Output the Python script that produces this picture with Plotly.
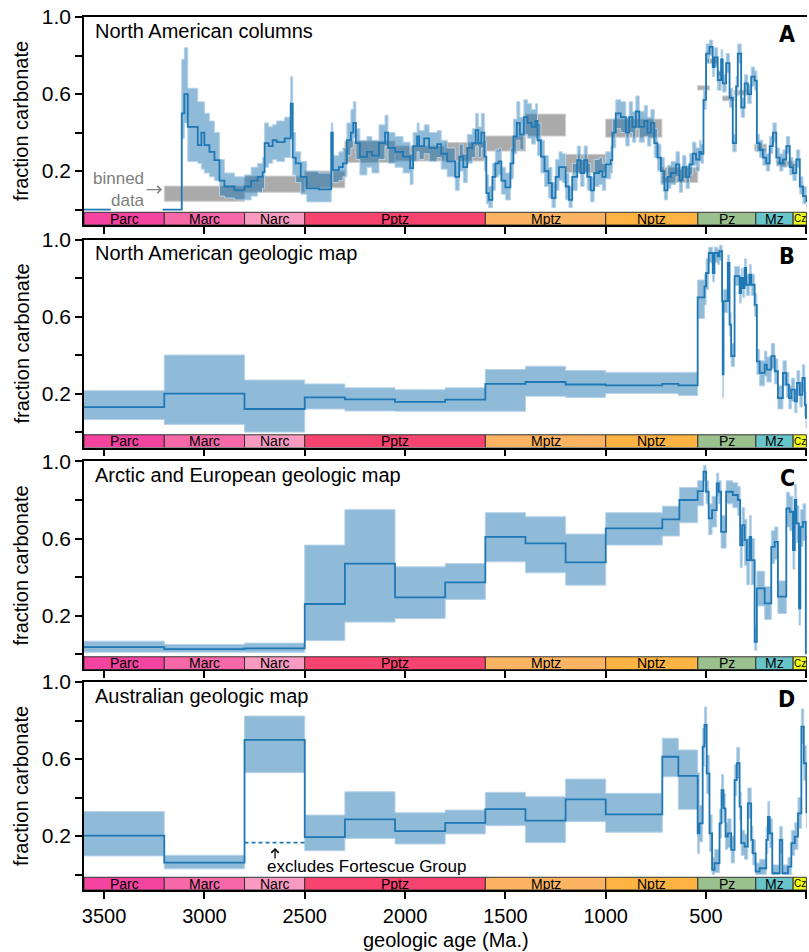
import plotly.graph_objects as go

# ---------------- data ----------------
ts_names = ["Parc", "Marc", "Narc", "Pptz", "Mptz", "Nptz", "Pz", "Mz", "Cz"]
ts_start = [3600, 3200, 2800, 2500, 1600, 1000, 541, 252, 66]
ts_end = [3200, 2800, 2500, 1600, 1000, 541, 252, 66, 0]
ts_colors = ["#f4449f", "#f768a9", "#f99bc1", "#f74370", "#fdb462",
             "#feb342", "#99c08d", "#67c5ca", "#f2f91d"]

x_ticks = [0, 500, 1000, 1500, 2000, 2500, 3000, 3500]
y_tickvals = [0, 0.2, 0.4, 0.6, 0.8, 1.0]
y_ticktext = ["", "0.2", "", "0.6", "", "1.0"]

panel_titles = ["North American columns", "North American geologic map",
                "Arctic and European geologic map", "Australian geologic map"]
panel_letters = ["A", "B", "C", "D"]

# Panel A: North American columns
a_early_age = [3600, 3467]
a_early_val = [0.0, 0.0]

a_age = [3208, 3113, 3100, 3083, 3033, 3015, 3000, 2975, 2950, 2925, 2900, 2850, 2800, 2767, 2735,
         2710, 2700, 2680, 2660, 2640, 2600, 2570, 2560, 2545, 2520, 2490, 2430, 2368, 2360, 2330,
         2310, 2290, 2270, 2258, 2245, 2225, 2190, 2165, 2130, 2100, 2085, 2050, 2010, 1975, 1960,
         1940, 1930, 1905, 1880, 1840, 1820, 1790, 1750, 1730, 1710, 1690, 1665, 1648, 1635, 1620,
         1605, 1595, 1583, 1565, 1550, 1533, 1520, 1500, 1475, 1460, 1443, 1428, 1408, 1390, 1370,
         1350, 1340, 1323, 1305, 1285, 1268, 1250, 1233, 1217, 1200, 1183, 1167, 1142, 1125, 1108,
         1092, 1075, 1058, 1033, 1017, 1000, 975, 967, 950, 925, 900, 883, 867, 850, 833,
         808, 792, 775, 758, 742, 725, 708, 692, 675, 650, 633, 617, 600, 583, 567,
         550, 533, 525, 513, 500, 483, 467, 458, 442, 425, 417, 400, 383, 367, 350,
         342, 325, 308, 292, 275, 258, 247, 233, 217, 200, 183, 167, 150, 133, 117,
         100, 83, 67, 50, 33, 17, 0]
a_mid = [0.00, 0.50, 0.60, 0.43, 0.335, 0.40, 0.335, 0.30, 0.257, 0.15, 0.12, 0.10, 0.12, 0.15, 0.17,
         0.195, 0.345, 0.33, 0.36, 0.35, 0.37, 0.55, 0.27, 0.24, 0.17, 0.11, 0.105, 0.40, 0.205, 0.22,
         0.24, 0.36, 0.40, 0.45, 0.345, 0.274, 0.30, 0.28, 0.345, 0.40, 0.32, 0.30, 0.275, 0.215, 0.33,
         0.38, 0.33, 0.37, 0.32, 0.34, 0.29, 0.25, 0.17, 0.275, 0.22, 0.32, 0.345, 0.413, 0.345, 0.40,
         0.275, 0.085, 0.05, 0.17, 0.24, 0.25, 0.15, 0.115, 0.24, 0.38, 0.45, 0.39, 0.48, 0.45, 0.43,
         0.46, 0.36, 0.275, 0.20, 0.137, 0.06, 0.17, 0.22, 0.22, 0.12, 0.05, 0.17, 0.257, 0.19, 0.257,
         0.17, 0.10, 0.19, 0.20, 0.17, 0.235, 0.257, 0.40, 0.50, 0.48, 0.40, 0.48, 0.43, 0.51, 0.43,
         0.46, 0.40, 0.45, 0.345, 0.27, 0.20, 0.10, 0.17, 0.19, 0.235, 0.15, 0.22, 0.17, 0.235, 0.29,
         0.26, 0.30, 0.29, 0.57, 0.81, 0.845, 0.74, 0.79, 0.672, 0.78, 0.655, 0.76, 0.58, 0.345, 0.64,
         0.81, 0.53, 0.655, 0.60, 0.69, 0.67, 0.345, 0.31, 0.27, 0.24, 0.33, 0.40, 0.27, 0.24, 0.26,
         0.33, 0.22, 0.19, 0.26, 0.12, 0.07, 0.04]
a_lo = [0.00, 0.37, 0.45, 0.25, 0.24, 0.21, 0.19, 0.17, 0.15, 0.07, 0.06, 0.05, 0.05, 0.07, 0.09,
        0.11, 0.22, 0.24, 0.26, 0.25, 0.27, 0.38, 0.18, 0.14, 0.08, 0.04, 0.04, 0.20, 0.14, 0.15,
        0.17, 0.28, 0.32, 0.37, 0.26, 0.18, 0.22, 0.19, 0.26, 0.33, 0.24, 0.22, 0.19, 0.13, 0.25,
        0.30, 0.26, 0.29, 0.25, 0.27, 0.21, 0.17, 0.10, 0.20, 0.14, 0.24, 0.27, 0.33, 0.27, 0.32,
        0.20, 0.03, 0.01, 0.10, 0.17, 0.18, 0.08, 0.05, 0.16, 0.29, 0.36, 0.31, 0.39, 0.37, 0.34,
        0.37, 0.28, 0.19, 0.12, 0.06, 0.01, 0.10, 0.15, 0.14, 0.05, 0.01, 0.10, 0.19, 0.12, 0.19,
        0.10, 0.04, 0.12, 0.13, 0.10, 0.16, 0.19, 0.32, 0.42, 0.40, 0.33, 0.40, 0.35, 0.42, 0.35,
        0.38, 0.33, 0.37, 0.27, 0.20, 0.13, 0.05, 0.11, 0.13, 0.17, 0.09, 0.16, 0.11, 0.18, 0.23,
        0.20, 0.25, 0.24, 0.52, 0.76, 0.80, 0.69, 0.74, 0.62, 0.73, 0.61, 0.71, 0.53, 0.30, 0.59,
        0.76, 0.48, 0.61, 0.55, 0.64, 0.62, 0.30, 0.27, 0.23, 0.20, 0.29, 0.35, 0.23, 0.20, 0.22,
        0.29, 0.18, 0.15, 0.22, 0.08, 0.03, 0.01]
a_hi = [0.00, 0.78, 0.84, 0.63, 0.56, 0.56, 0.50, 0.46, 0.40, 0.26, 0.19, 0.17, 0.18, 0.22, 0.24,
        0.27, 0.45, 0.43, 0.44, 0.46, 0.48, 0.69, 0.40, 0.30, 0.25, 0.20, 0.19, 0.45, 0.28, 0.30,
        0.32, 0.45, 0.52, 0.56, 0.42, 0.36, 0.38, 0.36, 0.44, 0.49, 0.40, 0.38, 0.35, 0.29, 0.40,
        0.45, 0.41, 0.44, 0.40, 0.41, 0.36, 0.32, 0.25, 0.34, 0.29, 0.39, 0.42, 0.50, 0.43, 0.50,
        0.36, 0.18, 0.12, 0.24, 0.31, 0.32, 0.22, 0.19, 0.32, 0.47, 0.56, 0.48, 0.57, 0.55, 0.52,
        0.55, 0.45, 0.36, 0.28, 0.22, 0.14, 0.26, 0.30, 0.29, 0.19, 0.12, 0.24, 0.33, 0.26, 0.33,
        0.24, 0.17, 0.26, 0.27, 0.24, 0.30, 0.33, 0.47, 0.57, 0.56, 0.48, 0.56, 0.51, 0.59, 0.51,
        0.54, 0.48, 0.52, 0.42, 0.34, 0.27, 0.17, 0.23, 0.25, 0.30, 0.21, 0.28, 0.23, 0.29, 0.35,
        0.32, 0.36, 0.34, 0.62, 0.86, 0.88, 0.79, 0.84, 0.72, 0.83, 0.70, 0.81, 0.63, 0.39, 0.69,
        0.86, 0.58, 0.70, 0.65, 0.74, 0.72, 0.39, 0.36, 0.32, 0.29, 0.38, 0.45, 0.32, 0.29, 0.31,
        0.38, 0.27, 0.24, 0.31, 0.17, 0.12, 0.08]

# binned data (gray boxes, panel A)
bin_start = [3200, 2800, 2500, 2300, 2050, 1800, 1600, 1400, 1200, 1000, 720, 543, 493, 443, 418, 360, 258, 148]
bin_end = [2800, 2500, 2300, 2050, 1800, 1600, 1400, 1200, 1000, 720, 541, 483, 443, 423, 358, 285, 198, 58]
bin_lo = [0.043, 0.09, 0.113, 0.244, 0.252, 0.252, 0.304, 0.382, 0.193, 0.376, 0.141,
          0.621, 0.76, 0.695, 0.565, 0.595, 0.304, 0.226]
bin_hi = [0.122, 0.174, 0.20, 0.356, 0.33, 0.348, 0.382, 0.496, 0.287, 0.47, 0.219,
          0.643, 0.782, 0.72, 0.59, 0.62, 0.34, 0.252]

# Panel B: North American geologic map
b_age = [3600, 3200, 2800, 2500, 2300, 2050, 1800, 1600, 1400, 1200, 1000, 718, 638,
         542, 508, 500, 487, 467, 458, 442, 433, 420, 417, 413, 392, 383, 375, 358, 333,
         325, 317, 308, 300, 283, 275, 258, 247, 233, 208, 197, 175, 158, 142, 117, 100,
         87, 75, 58, 47, 33, 20, 8, 2]
b_mid = [0.13, 0.20, 0.12, 0.18, 0.17, 0.157, 0.169, 0.25, 0.26, 0.247, 0.243, 0.25, 0.243,
         0.70, 0.757, 0.826, 0.93, 0.826, 0.93, 0.913, 0.939, 0.68, 0.30, 0.68, 0.878, 0.558, 0.394, 0.81, 0.722,
         0.80, 0.748, 0.852, 0.765, 0.817, 0.765, 0.661, 0.367, 0.307, 0.35, 0.324, 0.394, 0.316, 0.177, 0.307, 0.246,
         0.177, 0.22, 0.16, 0.255, 0.194, 0.281, 0.142, 0.073]
b_lo = [0.065, 0.04, 0.00, 0.12, 0.11, 0.108, 0.108, 0.108, 0.186, 0.18, 0.20, 0.20, 0.19,
        0.59, 0.66, 0.74, 0.88, 0.78, 0.88, 0.87, 0.89, 0.62, 0.18, 0.62, 0.83, 0.50, 0.34, 0.76, 0.67,
        0.75, 0.70, 0.80, 0.71, 0.76, 0.71, 0.60, 0.30, 0.24, 0.29, 0.26, 0.33, 0.25, 0.12, 0.24, 0.18,
        0.12, 0.16, 0.10, 0.19, 0.13, 0.21, 0.08, 0.02]
b_hi = [0.215, 0.40, 0.27, 0.25, 0.23, 0.22, 0.23, 0.325, 0.342, 0.32, 0.31, 0.31, 0.31,
        0.79, 0.82, 0.90, 0.96, 0.88, 0.96, 0.95, 0.97, 0.74, 0.40, 0.74, 0.92, 0.62, 0.46, 0.86, 0.78,
        0.85, 0.80, 0.90, 0.82, 0.87, 0.82, 0.72, 0.43, 0.37, 0.42, 0.39, 0.46, 0.38, 0.24, 0.37, 0.31,
        0.24, 0.28, 0.22, 0.32, 0.26, 0.35, 0.21, 0.13]

# Panel C: Arctic and European geologic map
c_age = [3600, 3200, 2800, 2500, 2300, 2050, 1800, 1600, 1400, 1200, 1000, 718, 633,
         542, 513, 500, 487, 470, 447, 437, 425, 400, 367, 342, 330, 320, 308, 297, 283,
         275, 258, 247, 208, 175, 158, 142, 100, 83, 67, 58, 50, 37, 30, 17, 3]
c_mid = [0.036, 0.026, 0.03, 0.26, 0.47, 0.294, 0.372, 0.609, 0.575, 0.476, 0.653, 0.70, 0.80,
         0.846, 0.947, 0.843, 0.705, 0.748, 0.886, 0.843, 0.635, 0.843, 0.826, 0.80, 0.566, 0.67, 0.592, 0.488, 0.609,
         0.488, 0.064, 0.341, 0.263, 0.557, 0.583, 0.298, 0.756, 0.739, 0.54, 0.80, 0.679, 0.237, 0.661, 0.687, 0.004]
c_lo = [0.01, 0.01, 0.01, 0.07, 0.166, 0.185, 0.284, 0.479, 0.422, 0.358, 0.566, 0.613, 0.682,
        0.77, 0.90, 0.78, 0.62, 0.66, 0.82, 0.78, 0.55, 0.78, 0.76, 0.72, 0.45, 0.56, 0.46, 0.36, 0.48,
        0.36, 0.02, 0.25, 0.18, 0.47, 0.49, 0.21, 0.66, 0.64, 0.44, 0.70, 0.58, 0.15, 0.56, 0.59, 0.0]
c_hi = [0.067, 0.05, 0.057, 0.566, 0.75, 0.453, 0.47, 0.734, 0.713, 0.623, 0.734, 0.768, 0.865,
        0.90, 0.98, 0.90, 0.78, 0.82, 0.94, 0.90, 0.72, 0.90, 0.89, 0.87, 0.66, 0.76, 0.70, 0.60, 0.72,
        0.60, 0.15, 0.43, 0.35, 0.64, 0.66, 0.38, 0.84, 0.82, 0.64, 0.88, 0.77, 0.33, 0.75, 0.78, 0.08]

# Panel D: Australian geologic map
d_age = [3600, 3200, 2800, 2500, 2300, 2050, 1800, 1600, 1400, 1200, 1000, 718, 638,
         542, 533, 517, 508, 497, 483, 470, 458, 433, 423, 413, 403, 392, 375, 358, 347,
         333, 325, 308, 292, 275, 267, 253, 233, 200, 192, 183, 170, 133, 120, 92, 75,
         58, 42, 25, 13, 0]
d_mid = [0.202, 0.062, 0.699, 0.195, 0.287, 0.226, 0.269, 0.34, 0.28, 0.391, 0.313, 0.612, 0.513,
         0.214, 0.266, 0.664, 0.777, 0.526, 0.214, 0.024, 0.059, 0.266, 0.439, 0.344, 0.197, 0.214, 0.128, 0.491, 0.578,
         0.353, 0.163, 0.145, 0.37, 0.18, 0.11, 0.015, 0.033, 0.18, 0.30, 0.214, 0.007, 0.18, 0.007, 0.041, 0.163,
         0.197, 0.318, 0.768, 0.578, 0.318]
d_lo = [0.097, 0.03, 0.529, 0.124, 0.188, 0.159, 0.211, 0.254, 0.166, 0.275, 0.22, 0.508, 0.339,
        0.11, 0.17, 0.56, 0.68, 0.42, 0.12, 0.0, 0.01, 0.19, 0.36, 0.27, 0.13, 0.14, 0.06, 0.41, 0.50,
        0.28, 0.10, 0.08, 0.29, 0.11, 0.05, 0.0, 0.0, 0.11, 0.22, 0.14, 0.0, 0.11, 0.0, 0.0, 0.10,
        0.13, 0.24, 0.68, 0.49, 0.24]
d_hi = [0.327, 0.10, 0.823, 0.309, 0.43, 0.321, 0.335, 0.427, 0.404, 0.496, 0.422, 0.708, 0.647,
        0.53, 0.36, 0.76, 0.87, 0.62, 0.31, 0.09, 0.13, 0.34, 0.52, 0.42, 0.27, 0.29, 0.20, 0.57, 0.66,
        0.43, 0.23, 0.21, 0.45, 0.25, 0.18, 0.06, 0.08, 0.25, 0.38, 0.29, 0.05, 0.25, 0.05, 0.09, 0.23,
        0.27, 0.40, 0.86, 0.67, 0.40]

# Australia Neoarchean value excluding the Fortescue Group (dashed)
d_dash_age = [2800, 2500]
d_dash_val = [0.166, 0.166]

# ---------------- styling ----------------
FONT = "Liberation Sans, Arial, Helvetica, sans-serif"
LETTER_FONT = "DejaVu Sans Condensed, DejaVu Sans, sans-serif"
BLUE = "#1f77b4"
BAND = "rgba(31,119,180,0.5)"
EDGE = "rgba(182,210,233,1)"
X_RANGE = [3600, -3]
Y_RANGE = [-0.08, 1.0]
TS_Y0, TS_Y1 = -0.08, -0.014
domains = [[0.76174, 1.0], [0.50687, 0.74513], [0.25258, 0.49084], [0.0, 0.23826]]

fig = go.Figure()


def axnames(i):
    return ("x" if i == 1 else f"x{i}"), ("y" if i == 1 else f"y{i}")


def add_series(i, ages, mid, lo, hi):
    xa, ya = axnames(i)
    xs = list(ages) + ([0] if ages[-1] != 0 else [])
    ext = (lambda v: list(v) + ([v[-1]] if ages[-1] != 0 else []))
    common = dict(xaxis=xa, yaxis=ya, showlegend=False, hoverinfo="skip", mode="lines")
    fig.add_trace(go.Scatter(x=xs, y=ext(lo), line=dict(color=EDGE, width=1, shape="hv"), **common))
    fig.add_trace(go.Scatter(x=xs, y=ext(hi), line=dict(color=EDGE, width=1, shape="hv"),
                             fill="tonexty", fillcolor=BAND, **common))
    fig.add_trace(go.Scatter(x=xs, y=ext(mid), line=dict(color=BLUE, width=1.8, shape="hv"), **common))


# panel A: binned boxes first (underneath the band)
for s, e, lo, hi in zip(bin_start, bin_end, bin_lo, bin_hi):
    fig.add_trace(go.Scatter(x=[s, e, e, s, s], y=[lo, lo, hi, hi, lo], mode="lines",
                             fill="toself", fillcolor="rgba(150,150,150,0.8)",
                             line=dict(color="rgba(208,208,208,1)", width=1),
                             xaxis="x", yaxis="y", showlegend=False, hoverinfo="skip"))
fig.add_trace(go.Scatter(x=a_early_age, y=a_early_val, mode="lines",
                         line=dict(color=BLUE, width=1.8), xaxis="x", yaxis="y",
                         showlegend=False, hoverinfo="skip"))
add_series(1, a_age, a_mid, a_lo, a_hi)
add_series(2, b_age, b_mid, b_lo, b_hi)
add_series(3, c_age, c_mid, c_lo, c_hi)
add_series(4, d_age, d_mid, d_lo, d_hi)
fig.add_trace(go.Scatter(x=d_dash_age, y=d_dash_val, mode="lines",
                         line=dict(color=BLUE, width=1.6, dash="4px,3px"),
                         xaxis="x4", yaxis="y4", showlegend=False, hoverinfo="skip"))

shapes = []
annotations = []
layout_axes = {}
for i in range(1, 5):
    xa, ya = axnames(i)
    xkey = "xaxis" if i == 1 else f"xaxis{i}"
    ykey = "yaxis" if i == 1 else f"yaxis{i}"
    layout_axes[xkey] = dict(
        domain=[0, 1], range=X_RANGE, anchor=ya, tickmode="array", tickvals=x_ticks,
        ticks="outside", ticklen=7, tickwidth=1.5, tickcolor="black",
        showline=True, linecolor="black", linewidth=1.5, mirror=True,
        showgrid=False, zeroline=False, showticklabels=(i == 4),
        tickfont=dict(family=FONT, size=20, color="black"),
        **({} if i == 1 else {"matches": "x"}))
    layout_axes[ykey] = dict(
        domain=domains[i - 1], range=Y_RANGE, anchor=xa, tickmode="array",
        tickvals=y_tickvals, ticktext=y_ticktext, ticks="outside", ticklen=7, tickwidth=1.5,
        tickcolor="black", showline=True, linecolor="black", linewidth=1.5,
        showgrid=False, zeroline=False,
        tickfont=dict(family=FONT, size=21, color="black"))

    # geologic timescale bar
    for name, s, e, col in zip(ts_names, ts_start, ts_end, ts_colors):
        shapes.append(dict(type="rect", xref=xa, yref=ya, x0=s, x1=e, y0=TS_Y0, y1=TS_Y1,
                           fillcolor=col, line=dict(color="#333333", width=1), layer="above"))
        annotations.append(dict(x=(s + e) / 2, y=(TS_Y0 + TS_Y1) / 2, xref=xa, yref=ya,
                                text=name, showarrow=False, yanchor="middle",
                                font=dict(family=FONT, size=(10 if name == "Cz" else 14), color="black")))

    dom_x = ("x" if i == 1 else f"x{i}") + " domain"
    dom_y = ("y" if i == 1 else f"y{i}") + " domain"
    annotations.append(dict(x=0.0125, y=0.935, xref=dom_x, yref=dom_y, xanchor="left",
                            yanchor="middle", text=panel_titles[i - 1], showarrow=False,
                            font=dict(family=FONT, size=20, color="black")))
    annotations.append(dict(x=0.986, y=0.92, xref=dom_x, yref=dom_y, xanchor="right",
                            yanchor="middle", text="<b>" + panel_letters[i - 1] + "</b>",
                            showarrow=False, font=dict(family=LETTER_FONT, size=23, color="black")))
    annotations.append(dict(x=-0.0871, y=0.5, xref="paper", yref=dom_y, xanchor="center",
                            yanchor="middle", text="fraction carbonate", textangle=-90,
                            showarrow=False, font=dict(family=FONT, size=20, color="black")))

# binned data label
annotations.append(dict(x=3211, y=0.104, xref="x", yref="y", text="binned<br>data", align="right",
                        showarrow=True, arrowhead=4, arrowsize=1.1, arrowwidth=1.3,
                        arrowcolor="#808080", ax=-43, ay=0,
                        font=dict(family=FONT, size=17, color="#808080")))
# Fortescue note
annotations.append(dict(x=2648, y=0.138, xref="x4", yref="y4", text="", showarrow=True,
                        arrowhead=4, arrowsize=1.1, arrowwidth=1.3, arrowcolor="black",
                        ax=0, ay=12))
annotations.append(dict(x=2698, y=0.04, xref="x4", yref="y4", text="excludes Fortescue Group",
                        xanchor="left", yanchor="middle", showarrow=False,
                        font=dict(family=FONT, size=17, color="black")))
# x-axis title
annotations.append(dict(x=0.5, y=-0.0573, xref="paper", yref="paper", text="geologic age (Ma.)",
                        xanchor="center", yanchor="middle", showarrow=False,
                        font=dict(family=FONT, size=20, color="black")))

fig.update_layout(width=809, height=952, margin=dict(l=84, r=2, t=17, b=62),
                  paper_bgcolor="white", plot_bgcolor="white",
                  font=dict(family=FONT, size=20, color="black"),
                  shapes=shapes, annotations=annotations, showlegend=False, **layout_axes)

fig.write_html("out.html", config={"displayModeBar": False},
               post_script="document.body.style.margin='0';document.body.style.padding='0';"
                           "document.body.style.overflow='hidden';"
                           "document.documentElement.style.overflow='hidden';")
